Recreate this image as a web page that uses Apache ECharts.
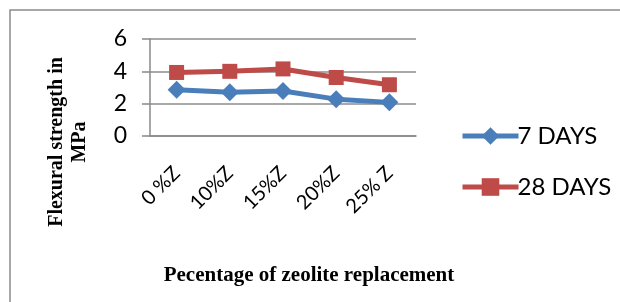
<!DOCTYPE html>
<html>
<head>
<meta charset="utf-8">
<script src="https://cdn.jsdelivr.net/npm/echarts@6/dist/echarts.min.js"></script>
<style>
  html, body { margin: 0; padding: 0; background: #fff; }
  #chart { width: 620px; height: 302px; }
</style>
</head>
<body>
<div id="chart"></div>
<script>
// data
const categories = ['0 %Z', '10%Z', '15%Z', '20%Z', '25% Z'];
const days7 = [2.86, 2.7, 2.78, 2.28, 2.08];
const days28 = [3.93, 4.0, 4.15, 3.62, 3.17];
const yTicks = [0, 2, 4, 6];

const BLUE = '#4a7ebb';
const RED = '#be4b48';

const chart = echarts.init(document.getElementById('chart'));

const option = {
  backgroundColor: '#fff',
  animation: false,
  grid: { left: 150, top: 39, right: 204, bottom: 166 },
  legend: {
    orient: 'vertical',
    left: 455,
    top: 119,
    itemWidth: 56,
    itemHeight: 22,
    itemGap: 27,
    textStyle: { fontFamily: 'Lato', fontSize: 24, lineHeight: 22, color: '#000', padding: [0, 0, 0, -6] },
    data: [
      { name: '7 DAYS', lineStyle: { width: 5, color: BLUE } },
      { name: '28 DAYS', lineStyle: { width: 5, color: RED } }
    ]
  },
  xAxis: {
    type: 'category',
    data: categories,
    boundaryGap: true,
    axisLine: { lineStyle: { color: '#888', width: 1.5 } },
    axisTick: { show: false },
    axisLabel: { rotate: 45, margin: 34, fontFamily: 'Lato', fontSize: 20, color: '#000' }
  },
  yAxis: {
    type: 'value',
    min: yTicks[0],
    max: yTicks[yTicks.length - 1],
    interval: 2,
    axisLine: { show: true, lineStyle: { color: '#888', width: 1.5 } },
    axisTick: { show: true, length: 8, lineStyle: { color: '#888', width: 1.5 } },
    axisLabel: { margin: 23, fontFamily: 'Lato', fontSize: 23, color: '#000' },
    splitLine: { lineStyle: { color: '#8c8c8c', width: 1.5 } }
  },
  series: [
    {
      name: '7 DAYS',
      type: 'line',
      data: days7,
      symbol: 'diamond',
      symbolSize: 18,
      lineStyle: { color: BLUE, width: 5 },
      itemStyle: { color: BLUE }
    },
    {
      name: '28 DAYS',
      type: 'line',
      data: days28,
      symbol: 'rect',
      symbolSize: 15,
      lineStyle: { color: RED, width: 5 },
      itemStyle: { color: RED }
    }
  ],
  graphic: [
    {
      type: 'rect',
      shape: { x: 10, y: 10, width: 700, height: 400 },
      style: { fill: 'none', stroke: '#8c8c8c', lineWidth: 1.5 },
      silent: true
    },
    {
      type: 'text',
      x: 68,
      y: 142,
      rotation: Math.PI / 2,
      style: {
        text: 'Flexural strength in\nMPa',
        font: 'bold 20px "Liberation Serif"',
        fill: '#000',
        align: 'center',
        verticalAlign: 'middle',
        lineHeight: 23
      }
    },
    {
      type: 'text',
      x: 309,
      y: 276,
      style: {
        text: 'Pecentage of zeolite replacement',
        font: 'bold 21px "Liberation Serif"',
        fill: '#000',
        align: 'center',
        verticalAlign: 'middle'
      }
    }
  ]
};

chart.setOption(option);
</script>
</body>
</html>
